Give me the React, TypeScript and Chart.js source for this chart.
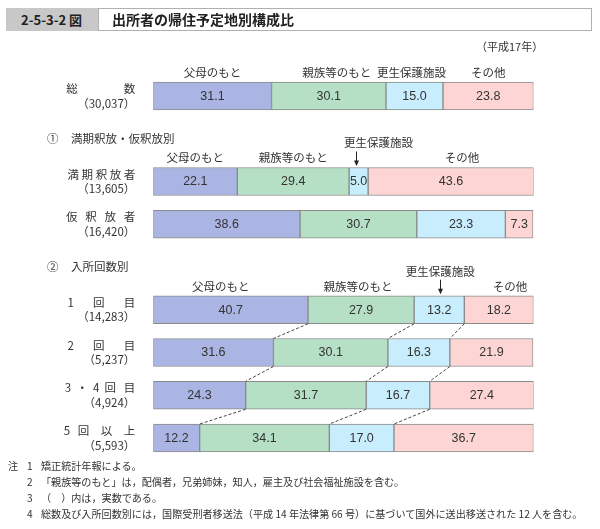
import React, { useEffect, useRef } from "react";
import { Chart, registerables } from "chart.js";

Chart.register(...registerables);

// ---- data ----
const seriesNames = ["父母のもと", "親族等のもと", "更生保護施設", "その他"];
const rowLabels: (string | string[])[] = [
  ["総\u3000\u3000\u3000\u3000数", "（30,037）"],
  "",
  ["満 期 釈 放 者", "（13,605）"],
  ["仮   釈   放   者", "（16,420）"],
  "",
  ["1\u3000   回\u3000   目", "（14,283）"],
  ["2\u3000   回\u3000   目", "（5,237）"],
  ["3  ・  4  回   目", "（4,924）"],
  ["5   回\u3000以\u3000上", "（5,593）"],
];
const parents = [31.1, null, 22.1, 38.6, null, 40.7, 31.6, 24.3, 12.2];
const relatives = [30.1, null, 29.4, 30.7, null, 27.9, 30.1, 31.7, 34.1];
const facility = [15.0, null, 5.0, 23.3, null, 13.2, 16.3, 16.7, 17.0];
const others = [23.8, null, 43.6, 7.3, null, 18.2, 21.9, 27.4, 36.7];
const sectionTitles = [
  { slot: 1, mark: "①", text: "満期釈放・仮釈放別" },
  { slot: 4, mark: "②", text: "入所回数別" },
];
const connectorSlots = [5, 6, 7];
const notes = [
  "矯正統計年報による。",
  "「親族等のもと」は，配偶者，兄弟姉妹，知人，雇主及び社会福祉施設を含む。",
  "（　）内は，実数である。",
  "総数及び入所回数別には，国際受刑者移送法（平成 14 年法律第 66 号）に基づいて国外に送出移送された 12 人を含む。",
];

// ---- styles / layout ----
const colors = ["#aab5e3", "#b5e0c5", "#c8edfc", "#fdd5d5"];
const JP = '"Noto Sans CJK JP", "Noto Sans", sans-serif';
const headerRows = [
  { slot: 0, offsets: [0, 8, -3, 0], raised: -1, arrowOffset: 0 },
  { slot: 2, offsets: [0, 0, 20, 11], raised: 2, arrowOffset: -3 },
  { slot: 5, offsets: [-10, -3, 1, 11], raised: 2, arrowOffset: 1 },
];

const overlayPlugin = {
  id: "overlay",
  afterDatasetsDraw(chart: any) {
    const ctx: CanvasRenderingContext2D = chart.ctx;
    ctx.save();
    // values inside bars
    ctx.font = '12.5px "Liberation Sans", Arial, sans-serif';
    ctx.fillStyle = "#333";
    ctx.textAlign = "center";
    ctx.textBaseline = "middle";
    chart.data.datasets.forEach((ds: any, di: number) => {
      const meta = chart.getDatasetMeta(di);
      meta.data.forEach((bar: any, i: number) => {
        const v = ds.data[i];
        if (v == null) return;
        const p = bar.getProps(["x", "base", "y"], true);
        ctx.fillText(v.toFixed(1), (p.x + p.base) / 2, p.y + 0.5);
      });
    });

    const barAt = (di: number, slot: number) => {
      const bar: any = chart.getDatasetMeta(di).data[slot];
      const p = bar.getProps(["x", "base", "y", "height"], true);
      return { x: p.x, base: p.base, top: p.y - p.height / 2, bottom: p.y + p.height / 2 };
    };

    // headers above bars
    ctx.font = "11.5px " + JP;
    ctx.fillStyle = "#333";
    ctx.strokeStyle = "#222";
    headerRows.forEach((row) => {
      seriesNames.forEach((name, di) => {
        const b = barAt(di, row.slot);
        const cx = (b.x + b.base) / 2;
        if (di === row.raised) {
          ctx.fillText(name, cx + row.offsets[di], b.top - 24.5);
          const ax = Math.round(cx + row.arrowOffset) + 0.5;
          ctx.lineWidth = 1;
          ctx.beginPath();
          ctx.moveTo(ax, b.top - 16);
          ctx.lineTo(ax, b.top - 5);
          ctx.stroke();
          ctx.beginPath();
          ctx.moveTo(ax - 2.5, b.top - 7);
          ctx.lineTo(ax + 2.5, b.top - 7);
          ctx.lineTo(ax, b.top - 1.5);
          ctx.closePath();
          ctx.fillStyle = "#222";
          ctx.fill();
          ctx.fillStyle = "#333";
        } else {
          ctx.fillText(name, cx + row.offsets[di], b.top - 9.5);
        }
      });
    });

    // section titles
    ctx.textAlign = "left";
    ctx.font = "11.5px " + JP;
    sectionTitles.forEach((s) => {
      const y = chart.scales.y.getPixelForValue(s.slot);
      ctx.fillText(s.mark, 47, y);
      ctx.fillText(s.text, 71, y);
    });

    // dashed connectors
    ctx.strokeStyle = "#444";
    ctx.lineWidth = 1;
    ctx.setLineDash([3, 2]);
    connectorSlots.forEach((slot) => {
      for (let di = 0; di < 3; di++) {
        const a = barAt(di, slot);
        const b = barAt(di, slot + 1);
        ctx.beginPath();
        ctx.moveTo(a.x, a.bottom);
        ctx.lineTo(b.x, b.top);
        ctx.stroke();
      }
    });
    ctx.restore();
  },
};

export default function App() {
  const ref = useRef<HTMLCanvasElement>(null);
  useEffect(() => {
    if (!ref.current) return;
    const datasets = [parents, relatives, facility, others].map((d, i) => ({
      label: seriesNames[i],
      data: d,
      backgroundColor: colors[i],
      borderColor: "#8a8a8a",
      borderWidth: 1,
      borderSkipped: false,
      barThickness: 28,
    }));
    const chart = new Chart(ref.current, {
      type: "bar",
      data: { labels: rowLabels as any, datasets: datasets as any },
      options: {
        indexAxis: "y",
        responsive: false,
        animation: false,
        devicePixelRatio: 1,
        layout: { padding: { left: 0, right: 66.5, top: 74.6, bottom: 69.6 } },
        plugins: { legend: { display: false }, tooltip: { enabled: false } },
        scales: {
          x: { stacked: true, min: 0, max: 100, display: false },
          y: {
            stacked: true,
            grid: { display: false, drawTicks: false },
            border: { display: false },
            ticks: {
              padding: 18,
              color: "#333",
              font: { family: JP, size: 11.5, lineHeight: 1.25 },
              autoSkip: false,
            },
            afterFit: (scale: any) => {
              scale.width = 153.3;
            },
          },
        },
      } as any,
      plugins: [overlayPlugin],
    });
    return () => chart.destroy();
  }, []);

  const noteNum: React.CSSProperties = { position: "absolute", left: 27 };
  const noteText: React.CSSProperties = { position: "absolute", left: 41, whiteSpace: "nowrap" };
  return (
    <div
      style={{
        position: "absolute",
        left: 0,
        top: 0,
        width: 600,
        height: 529,
        background: "#fff",
        fontFamily: JP,
        color: "#222",
        overflow: "hidden",
      }}
    >
      <canvas ref={ref} width={600} height={529} style={{ position: "absolute", left: 0, top: 0 }} />
      <div
        style={{
          position: "absolute",
          left: 6,
          top: 8,
          width: 92,
          height: 23,
          background: "#c8c8c8",
          fontSize: 13,
          fontWeight: "bold",
          lineHeight: "23px",
          paddingLeft: 15,
          boxSizing: "border-box",
          color: "#222",
        }}
      >
        2-5-3-2 図
      </div>
      <div
        style={{
          position: "absolute",
          left: 98,
          top: 8,
          width: 494,
          height: 23,
          border: "1px solid #b0b0b0",
          boxSizing: "border-box",
          fontSize: 14,
          fontWeight: "bold",
          lineHeight: "21px",
          paddingLeft: 13,
          color: "#222",
        }}
      >
        出所者の帰住予定地別構成比
      </div>
      <div style={{ position: "absolute", left: 476, top: 38, fontSize: 11, color: "#333", whiteSpace: "nowrap" }}>
        （平成17年）
      </div>
      {notes.map((t, i) => (
        <div
          key={i}
          style={{ position: "absolute", left: 0, top: 459 + i * 16, fontSize: 10.1, lineHeight: "14px", color: "#333", width: 600 }}
        >
          {i === 0 ? <span style={{ position: "absolute", left: 8 }}>注</span> : null}
          <span style={noteNum}>{i + 1}</span>
          <span style={noteText}>{t}</span>
        </div>
      ))}
    </div>
  );
}
